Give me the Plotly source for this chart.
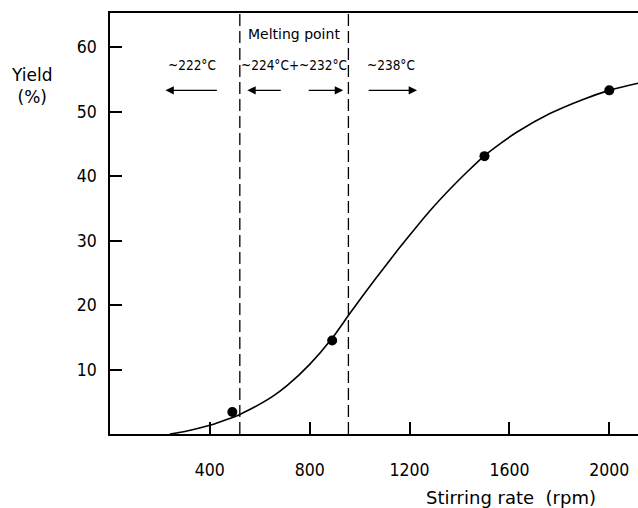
import plotly.graph_objects as go

# measured data points
rate_pts = [490, 890, 1500, 2000]
yield_pts = [3.4, 14.5, 43.1, 53.3]

# fitted curve
curve_x = [240, 300, 400, 442, 518, 575, 650, 709, 800, 889, 959, 1029, 1100, 1162, 1229, 1295,
           1362, 1429, 1495, 1562, 1629, 1762, 1895, 2000, 2115]
curve_y = [0.0, 0.4, 1.35, 1.9, 3.0, 4.1, 5.8, 7.5, 10.8, 14.8, 18.6, 22.3, 25.9, 29.0, 32.2, 35.2,
           38.0, 40.6, 43.0, 45.0, 46.8, 49.7, 51.9, 53.3, 54.4]

melting_bounds = [520, 955]

x_ticks = [400, 800, 1200, 1600, 2000]
y_ticks = [10, 20, 30, 40, 50, 60]

temp_labels = ["~222°C", "~224°C+~232°C", "~238°C"]
temp_label_x = [330, 736, 1126]
temp_label_y = 57.2
melt_label = "Melting point"
melt_label_x = 738
melt_label_y = 62.0

# arrows: (tail_x, head_x)
arrows = [(434, 222), (690, 550), (790, 934), (1030, 1230)]
arrow_y = 53.3

FONT_C = "DejaVu Sans Condensed, DejaVu Sans, sans-serif"
FONT = "DejaVu Sans, sans-serif"

fig = go.Figure()
fig.add_trace(go.Scatter(x=curve_x, y=curve_y, mode="lines",
                         line=dict(color="black", width=1.6, shape="spline", smoothing=0.8),
                         hoverinfo="skip", showlegend=False))
fig.add_trace(go.Scatter(x=rate_pts, y=yield_pts, mode="markers",
                         marker=dict(color="black", size=10), showlegend=False))

for xb in melting_bounds:
    fig.add_shape(type="line", x0=xb, x1=xb, y0=0, y1=1, xref="x", yref="paper",
                  line=dict(color="black", width=1.3, dash="12px,5px"))

for t, xx in zip(temp_labels, temp_label_x):
    fig.add_annotation(x=xx, y=temp_label_y, text=t, showarrow=False, xref="x", yref="y",
                       font=dict(size=13.5, color="black", family=FONT_C))
fig.add_annotation(x=melt_label_x, y=melt_label_y, text=melt_label, showarrow=False, xref="x", yref="y",
                   font=dict(size=14, color="black", family=FONT))
for tail, head in arrows:
    fig.add_annotation(x=head, y=arrow_y, ax=tail, ay=arrow_y, xref="x", yref="y", axref="x", ayref="y",
                       text="", showarrow=True, arrowhead=2, arrowsize=1.2, arrowwidth=1.4, arrowcolor="black")

# axis titles positioned in pixels relative to the plot area
plot_w = 638 - 110
plot_h = 508 - 13 - 74
fig.add_annotation(x=(31 - 110) / plot_w, y=(434 - 86) / plot_h, xref="paper", yref="paper",
                   xanchor="center", yanchor="middle",
                   text="Yield<br>(%)", showarrow=False,
                   font=dict(size=17, color="black", family=FONT), align="center")
fig.add_annotation(x=(511 - 110) / plot_w, y=-(497 - 434) / plot_h, xref="paper", yref="paper",
                   xanchor="center", yanchor="middle",
                   text="Stirring rate&nbsp;&nbsp;(rpm)", showarrow=False,
                   font=dict(size=18, color="black", family=FONT))

fig.update_xaxes(range=[0, 2115], tickvals=x_ticks, ticks="inside", ticklen=12, tickwidth=1.5, tickcolor="black",
                 showline=True, linecolor="black", linewidth=1.5, mirror=True, showgrid=False, zeroline=False,
                 automargin=False, ticklabelstandoff=19, tickfont=dict(size=17.5, color="black", family=FONT_C))
fig.update_yaxes(range=[0, 65.3], tickvals=y_ticks, ticks="inside", ticklen=12, tickwidth=1.5, tickcolor="black",
                 showline=True, linecolor="black", linewidth=1.5, showgrid=False, zeroline=False,
                 automargin=False, ticklabelstandoff=8, tickfont=dict(size=17.5, color="black", family=FONT_C))

fig.update_layout(width=638, height=508, margin=dict(l=110, r=0, t=13, b=74),
                  plot_bgcolor="white", paper_bgcolor="white")

fig.write_html("out.html", config={"displayModeBar": False},
               post_script="document.body.style.margin='0px';document.body.style.overflow='hidden';")
